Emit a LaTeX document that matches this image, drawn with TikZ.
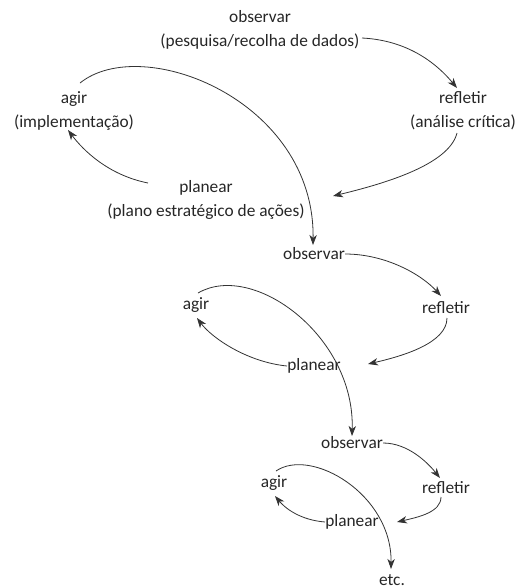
\documentclass[tikz,border=0pt]{standalone}
\usepackage{fontspec}
\setmainfont{Carlito}
\usetikzlibrary{calc,arrows.meta}
\begin{document}
\begin{tikzpicture}[x=0.75pt,y=-0.75pt,
  stage/.style={font=\fontsize{13}{18}\selectfont, text=black!85, align=center, inner sep=0pt},
  flow/.style={line width=0.6pt, draw=black!80, -{Stealth[length=7.5pt,width=5.5pt,inset=2.2pt]}}]
\useasboundingbox (0,0) rectangle (518,587);

% first cycle
\node[stage] (obs1) at (260,30) {observar\\(pesquisa/recolha de dados)};
\node[stage] (ref1) at (463,111) {refletir\\(análise crítica)};
\node[stage] (agi1) at (74,111) {agir\\(implementação)};
\node[stage] (pla1) at (206,200) {planear\\(plano estratégico de ações)};

% second cycle
\node[stage] (obs2) at (314,254) {observar};
\node[stage] (ref2) at (446,308) {refletir};
\node[stage] (agi2) at (196,305) {agir};
\node[stage] (pla2) at (314,366) {planear};

% third cycle
\node[stage] (obs3) at (352,443) {observar};
\node[stage] (ref3) at (446,488) {refletir};
\node[stage] (agi3) at (274,483) {agir};
\node[stage] (pla3) at (352,522) {planear};

\node[stage] (etc) at (392,580) {etc.};

% connectors of the first cycle
\draw[flow] ($(obs1)+(102,8)$) .. controls +(40,2) and +(-25,-30) .. ($(ref1)+(-6,-23)$);
\draw[flow] ($(ref1)+(-6,22)$) .. controls +(-8,32) and +(50,-12) .. ($(pla1)+(127,-4)$);
\draw[flow] ($(pla1)+(-58,-17)$) .. controls +(-40,-8) and +(15,20) .. ($(agi1)+(-6,19)$);
\draw[flow] ($(agi1)+(6,-28)$) .. controls +(62,-50) and +(2,-145) .. ($(obs2)+(-1,-9)$);

% connectors of the second cycle
\draw[flow] (obs2.east) .. controls +(40,0) and +(-20,-22) .. ($(ref2)+(-5,-12)$);
\draw[flow] ($(ref2)+(1,10)$) .. controls +(0,25) and +(35,-8) .. ($(pla2)+(54,-2)$);
\draw[flow] (pla2.west) .. controls +(-40,-4) and +(15,20) .. ($(agi2)+(1,13)$);
\draw[flow] ($(agi2)+(2,-12)$) .. controls +(55,-32) and +(3,-100) .. ($(obs3)+(0,-7)$);

% connectors of the third cycle
\draw[flow] (obs3.east) .. controls +(25,0) and +(-12,-15) .. ($(ref3)+(-6,-10)$);
\draw[flow] ($(ref3)+(-5,9)$) .. controls +(0,15) and +(22,-5) .. ($(pla3)+(45,0)$);
\draw[flow] (pla3.west) .. controls +(-25,-2) and +(10,12) .. ($(agi3)+(1,13)$);
\draw[flow] ($(agi3)+(2,-12)$) .. controls +(35,-24) and +(1,-75) .. ($(etc)+(-1,-11)$);
\end{tikzpicture}
\end{document}
